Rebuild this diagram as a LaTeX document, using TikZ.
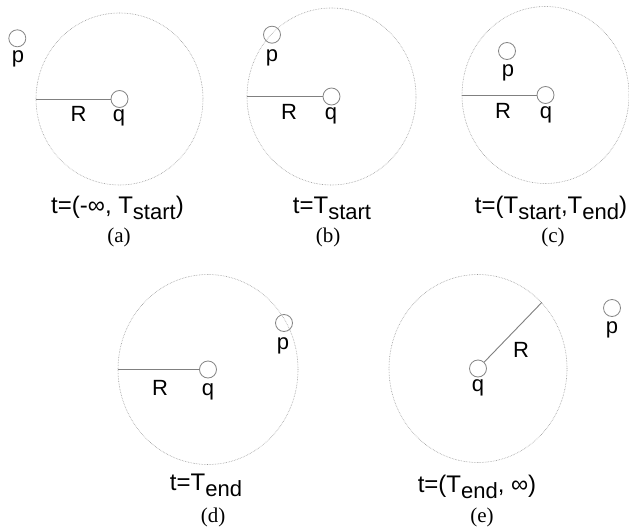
\documentclass[tikz,border=0pt]{standalone}
\usepackage{fontspec}
\setmainfont{Liberation Serif}
\newfontfamily\arialf{Liberation Sans}
\usetikzlibrary{shapes.geometric}
\newcommand\lowsub[1]{\raisebox{-0.28em}{\fontsize{22}{22}\selectfont #1}}
\tikzset{
 ringshape/.style={ellipse, draw=gray!80, densely dotted, line width=0.6pt, inner sep=0pt},
 smallc/.style={circle, draw=gray!95, line width=0.8pt, minimum size=17pt, inner sep=0pt},
 radline/.style={draw=gray, line width=0.9pt},
 lbl/.style={font=\arialf\fontsize{22}{22}\selectfont, anchor=base, inner sep=0pt},
 captxt/.style={font=\arialf\fontsize{24}{24}\selectfont, anchor=base, inner sep=0pt},
 subtag/.style={font=\fontsize{21}{21}\selectfont, inner sep=0pt},
}
\begin{document}
\begin{tikzpicture}[x=1pt,y=-1pt]
\useasboundingbox[fill=white] (0,0) rectangle (629,530);
% ---- (a)
\node[smallc] (qa) at (119.5,99) {};
\node[ringshape, minimum width=167pt, minimum height=172pt] (ra) at (qa) {};
\node[smallc] (pa) at (17.3,38.3) {};
\draw[radline] (ra.west) -- (qa);
\node[lbl] (la1) at (18,62.5) {p};
\node[lbl] (la2) at (78.5,121) {R};
\node[lbl] (la3) at (119,121) {q};
\node[captxt] (ca) at (117.5,213) {t=(-∞, T\lowsub{start})};
\node[subtag] (ta) at (119,237) {(a)};
% ---- (b)
\node[smallc] (qb) at (331.5,96.5) {};
\node[ringshape, minimum width=169pt, minimum height=177pt] (rb) at (qb) {};
\node[smallc] (pb) at (272,34.7) {};
\draw[radline] (rb.west) -- (qb);
\node[lbl] (lb1) at (272,61) {p};
\node[lbl] (lb2) at (289,119.5) {R};
\node[lbl] (lb3) at (331,119.5) {q};
\node[captxt] (cb) at (332,213) {t=T\lowsub{start}};
\node[subtag] (tb) at (328,237) {(b)};
% ---- (c)
\node[smallc] (qc) at (545.5,95) {};
\node[ringshape, minimum width=167pt, minimum height=177pt] (rc) at (qc) {};
\node[smallc] (pc) at (507,51) {};
\draw[radline] (rc.west) -- (qc);
\node[lbl] (lc1) at (508,76) {p};
\node[lbl] (lc2) at (503,118) {R};
\node[lbl] (lc3) at (546,118) {q};
\node[captxt] (cc) at (551,213) {t=(T\lowsub{start},T\lowsub{end})};
\node[subtag] (tc) at (553,237) {(c)};
% ---- (d)
\node[smallc] (qd) at (208,369.5) {};
\node[ringshape, minimum width=180pt, minimum height=190pt] (rd) at (qd) {};
\node[smallc] (pd) at (284,323) {};
\draw[radline] (rd.west) -- (qd);
\node[lbl] (ld1) at (283,349) {p};
\node[lbl] (ld2) at (160,395) {R};
\node[lbl] (ld3) at (208,395) {q};
\node[captxt] (cd) at (206,490) {t=T\lowsub{end}};
\node[subtag] (td) at (213,517) {(d)};
% ---- (e)
\node[smallc] (qe) at (478,368.5) {};
\node[ringshape, minimum width=178pt, minimum height=188pt] (re) at (qe) {};
\node[smallc] (pe) at (612,308) {};
\draw[radline] (qe) -- (re.46);
\node[lbl] (le1) at (612,333) {p};
\node[lbl] (le2) at (521,357) {R};
\node[lbl] (le3) at (478,391) {q};
\node[captxt] (ce) at (477,492) {t=(T\lowsub{end}, ∞)};
\node[subtag] (te) at (482,517) {(e)};
\end{tikzpicture}
\end{document}
